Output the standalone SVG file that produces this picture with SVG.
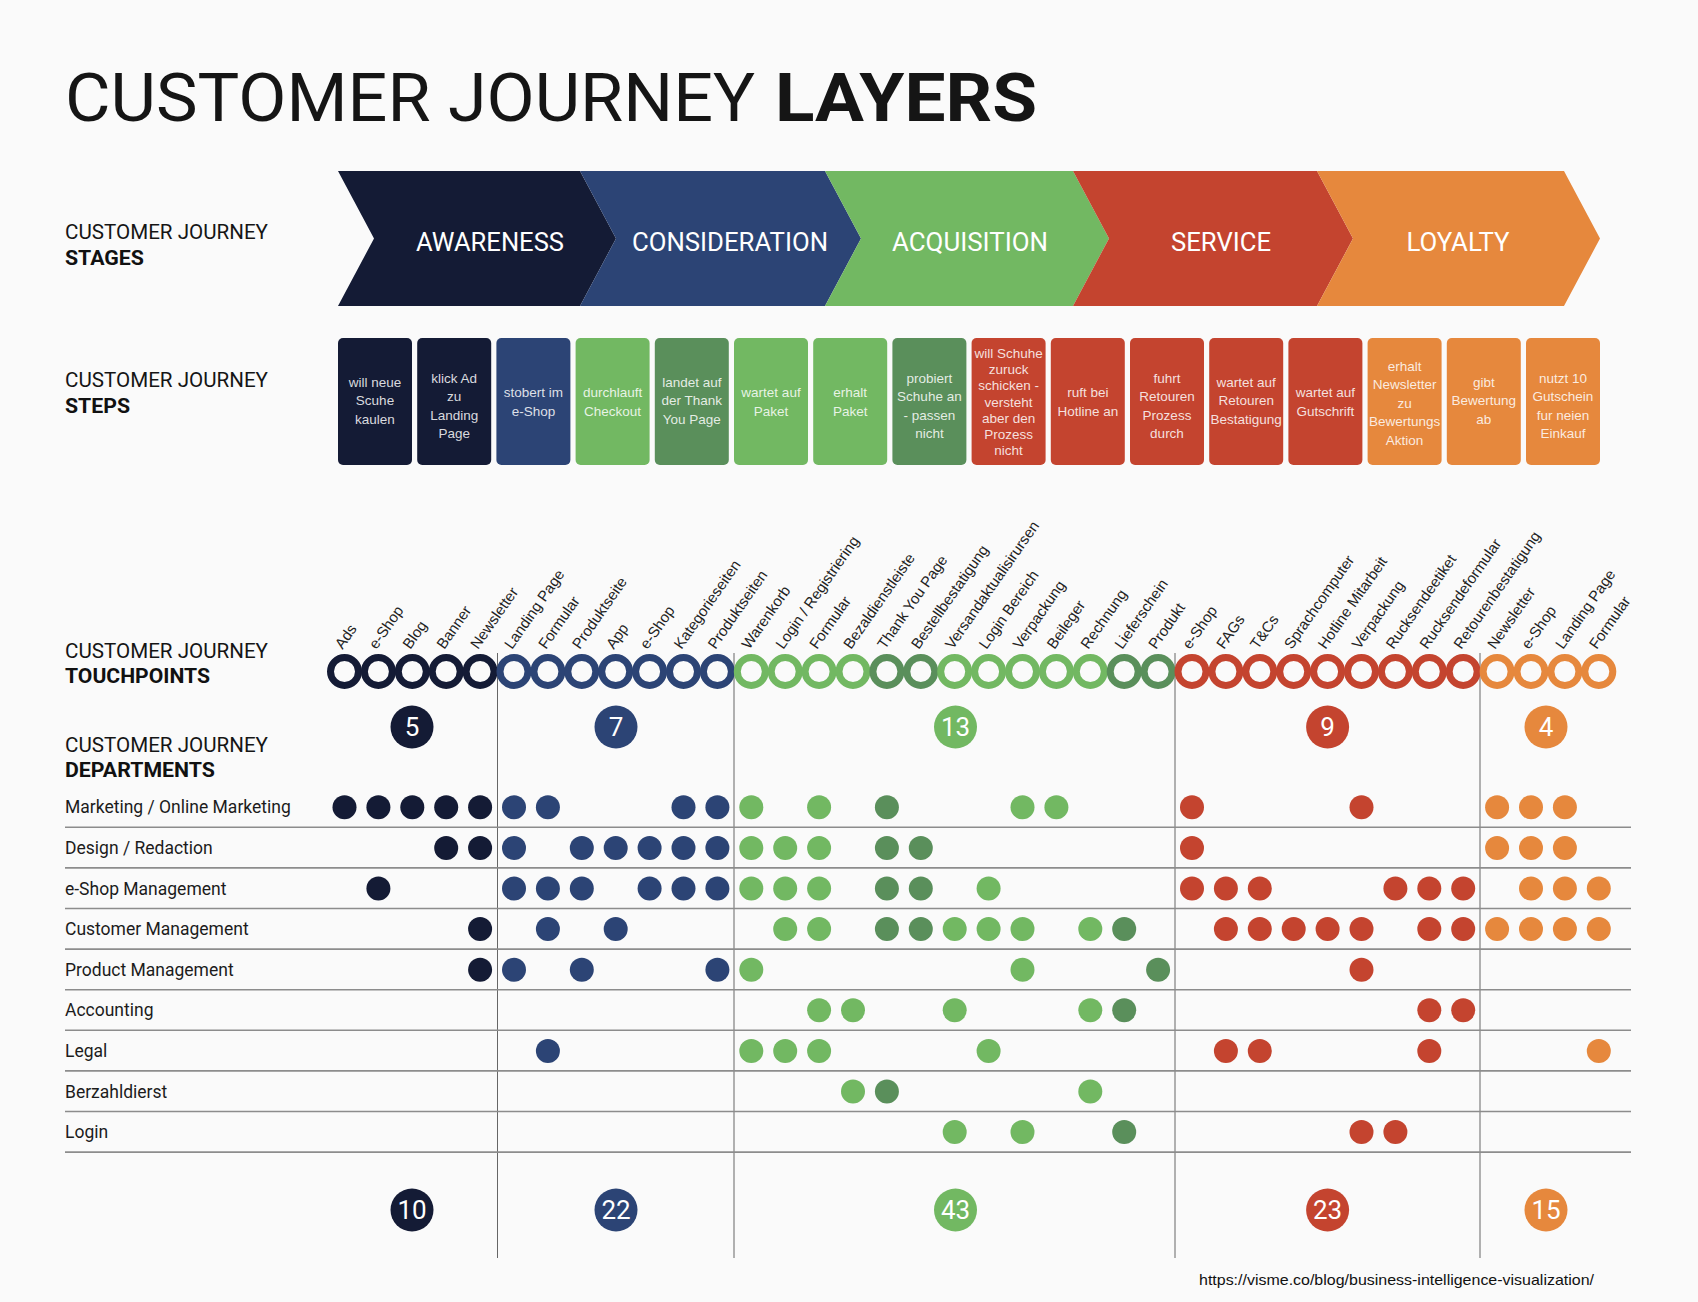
<svg xmlns="http://www.w3.org/2000/svg" width="1698" height="1302" viewBox="0 0 1698 1302">
<style>
.bg{fill:#fafafa}
.t{font-family:Roboto,"Liberation Sans",sans-serif;fill:#151515}
.sec{font-family:Roboto,"Liberation Sans",sans-serif;font-size:20px;fill:#151515}
.secb{font-family:Roboto,"Liberation Sans",sans-serif;font-size:20px;font-weight:700;fill:#111}
.stg{font-family:Roboto,"Liberation Sans",sans-serif;font-size:25px;fill:#fff;text-anchor:middle}
.stp{font-family:"Liberation Sans",Arial,sans-serif;font-size:13.5px;fill:#fff;fill-opacity:0.85;text-anchor:middle}
.lbl{font-family:"Liberation Sans",Arial,sans-serif;font-size:15px;fill:#222}
.dep{font-family:Roboto,"Liberation Sans",sans-serif;font-size:17.5px;fill:#1c1c1c}
.num{font-family:Roboto,"Liberation Sans",sans-serif;font-size:26px;fill:#fff;text-anchor:middle}
.ring{fill:#fafafa;stroke-width:7}
.sn{stroke:#141b35}.sb{stroke:#2c4475}.sg{stroke:#72b862}.sd{stroke:#5a8f5b}.sr{stroke:#c4442f}.so{stroke:#e6883d}
.n{fill:#141b35}.b{fill:#2c4475}.g{fill:#72b862}.d{fill:#5a8f5b}.r{fill:#c4442f}.o{fill:#e6883d}
.hl{stroke:#8c8c8c;stroke-width:1.6}
.vl{stroke:#666;stroke-width:1}
</style>
<rect class="bg" x="0" y="0" width="1698" height="1302"/>

<g id="title">
<text class="t" x="65" y="121" font-size="67" textLength="690" lengthAdjust="spacingAndGlyphs">CUSTOMER JOURNEY</text>
<text class="t" x="775" y="121" font-size="67" font-weight="700" textLength="262" lengthAdjust="spacingAndGlyphs">LAYERS</text>
</g>

<g id="section-labels">
<text class="sec" x="65" y="239" textLength="203" lengthAdjust="spacingAndGlyphs">CUSTOMER JOURNEY</text><text class="secb" x="65" y="265" textLength="79" lengthAdjust="spacingAndGlyphs">STAGES</text>
<text class="sec" x="65" y="387" textLength="203" lengthAdjust="spacingAndGlyphs">CUSTOMER JOURNEY</text><text class="secb" x="65" y="413" textLength="65" lengthAdjust="spacingAndGlyphs">STEPS</text>
<text class="sec" x="65" y="658" textLength="203" lengthAdjust="spacingAndGlyphs">CUSTOMER JOURNEY</text><text class="secb" x="65" y="683" textLength="145" lengthAdjust="spacingAndGlyphs">TOUCHPOINTS</text>
<text class="sec" x="65" y="752" textLength="203" lengthAdjust="spacingAndGlyphs">CUSTOMER JOURNEY</text><text class="secb" x="65" y="777" textLength="150" lengthAdjust="spacingAndGlyphs">DEPARTMENTS</text>
</g>

<g id="stages">
<g id="stage-awareness"><path class="n" d="M338,171 L580,171 L616,238.5 L580,306 L338,306 L374,238.5 Z"/><text class="stg" x="490" y="251" textLength="148" lengthAdjust="spacingAndGlyphs">AWARENESS</text></g>
<g id="stage-consideration"><path class="b" d="M580,171 L825,171 L861,238.5 L825,306 L580,306 L616,238.5 Z"/><text class="stg" x="730" y="251" textLength="196" lengthAdjust="spacingAndGlyphs">CONSIDERATION</text></g>
<g id="stage-acquisition"><path class="g" d="M825,171 L1073,171 L1109,238.5 L1073,306 L825,306 L861,238.5 Z"/><text class="stg" x="970" y="251" textLength="156" lengthAdjust="spacingAndGlyphs">ACQUISITION</text></g>
<g id="stage-service"><path class="r" d="M1073,171 L1317,171 L1353,238.5 L1317,306 L1073,306 L1109,238.5 Z"/><text class="stg" x="1221" y="251" textLength="100" lengthAdjust="spacingAndGlyphs">SERVICE</text></g>
<g id="stage-loyalty"><path class="o" d="M1317,171 L1564,171 L1600,238.5 L1564,306 L1317,306 L1353,238.5 Z"/><text class="stg" x="1458" y="251" textLength="103" lengthAdjust="spacingAndGlyphs">LOYALTY</text></g>
</g>

<g id="steps">
<g id="step-1"><rect class="n" x="338" y="338" width="74" height="127" rx="5"/><text class="stp"><tspan x="375" y="387">will neue</tspan><tspan x="375" y="405.4">Scuhe</tspan><tspan x="375" y="423.8">kaulen</tspan></text></g>
<g id="step-2"><rect class="n" x="417.2" y="338" width="74" height="127" rx="5"/><text class="stp"><tspan x="454.2" y="383">klick Ad</tspan><tspan x="454.2" y="401.4">zu</tspan><tspan x="454.2" y="419.8">Landing</tspan><tspan x="454.2" y="438.2">Page</tspan></text></g>
<g id="step-3"><rect class="b" x="496.4" y="338" width="74" height="127" rx="5"/><text class="stp"><tspan x="533.4" y="397.3">stobert im</tspan><tspan x="533.4" y="415.7">e-Shop</tspan></text></g>
<g id="step-4"><rect class="g" x="575.6" y="338" width="74" height="127" rx="5"/><text class="stp"><tspan x="612.6" y="397.3">durchlauft</tspan><tspan x="612.6" y="415.7">Checkout</tspan></text></g>
<g id="step-5"><rect class="d" x="654.8" y="338" width="74" height="127" rx="5"/><text class="stp"><tspan x="691.8" y="387">landet auf</tspan><tspan x="691.8" y="405.4">der Thank</tspan><tspan x="691.8" y="423.8">You Page</tspan></text></g>
<g id="step-6"><rect class="g" x="734" y="338" width="74" height="127" rx="5"/><text class="stp"><tspan x="771" y="397.3">wartet auf</tspan><tspan x="771" y="415.7">Paket</tspan></text></g>
<g id="step-7"><rect class="g" x="813.2" y="338" width="74" height="127" rx="5"/><text class="stp"><tspan x="850.2" y="397.3">erhalt</tspan><tspan x="850.2" y="415.7">Paket</tspan></text></g>
<g id="step-8"><rect class="d" x="892.4" y="338" width="74" height="127" rx="5"/><text class="stp"><tspan x="929.4" y="383">probiert</tspan><tspan x="929.4" y="401.4">Schuhe an</tspan><tspan x="929.4" y="419.8">- passen</tspan><tspan x="929.4" y="438.2">nicht</tspan></text></g>
<g id="step-9"><rect class="r" x="971.6" y="338" width="74" height="127" rx="5"/><text class="stp"><tspan x="1008.6" y="357.6">will Schuhe</tspan><tspan x="1008.6" y="373.9">zuruck</tspan><tspan x="1008.6" y="390.2">schicken -</tspan><tspan x="1008.6" y="406.5">versteht</tspan><tspan x="1008.6" y="422.8">aber den</tspan><tspan x="1008.6" y="439.1">Prozess</tspan><tspan x="1008.6" y="455.4">nicht</tspan></text></g>
<g id="step-10"><rect class="r" x="1050.8" y="338" width="74" height="127" rx="5"/><text class="stp"><tspan x="1087.8" y="397.3">ruft bei</tspan><tspan x="1087.8" y="415.7">Hotline an</tspan></text></g>
<g id="step-11"><rect class="r" x="1130" y="338" width="74" height="127" rx="5"/><text class="stp"><tspan x="1167" y="383">fuhrt</tspan><tspan x="1167" y="401.4">Retouren</tspan><tspan x="1167" y="419.8">Prozess</tspan><tspan x="1167" y="438.2">durch</tspan></text></g>
<g id="step-12"><rect class="r" x="1209.2" y="338" width="74" height="127" rx="5"/><text class="stp"><tspan x="1246.2" y="387">wartet auf</tspan><tspan x="1246.2" y="405.4">Retouren</tspan><tspan x="1246.2" y="423.8">Bestatigung</tspan></text></g>
<g id="step-13"><rect class="r" x="1288.4" y="338" width="74" height="127" rx="5"/><text class="stp"><tspan x="1325.4" y="397.3">wartet auf</tspan><tspan x="1325.4" y="415.7">Gutschrift</tspan></text></g>
<g id="step-14"><rect class="o" x="1367.6" y="338" width="74" height="127" rx="5"/><text class="stp"><tspan x="1404.6" y="371">erhalt</tspan><tspan x="1404.6" y="389.4">Newsletter</tspan><tspan x="1404.6" y="407.8">zu</tspan><tspan x="1404.6" y="426.2">Bewertungs</tspan><tspan x="1404.6" y="444.6">Aktion</tspan></text></g>
<g id="step-15"><rect class="o" x="1446.8" y="338" width="74" height="127" rx="5"/><text class="stp"><tspan x="1483.8" y="387">gibt</tspan><tspan x="1483.8" y="405.4">Bewertung</tspan><tspan x="1483.8" y="423.8">ab</tspan></text></g>
<g id="step-16"><rect class="o" x="1526" y="338" width="74" height="127" rx="5"/><text class="stp"><tspan x="1563" y="383">nutzt 10</tspan><tspan x="1563" y="401.4">Gutschein</tspan><tspan x="1563" y="419.8">fur neien</tspan><tspan x="1563" y="438.2">Einkauf</tspan></text></g>
</g>

<g id="connectors">
<line class="vl" x1="497.5" y1="653" x2="497.5" y2="1258"/>
<line class="vl" x1="734" y1="653" x2="734" y2="1258"/>
<line class="vl" x1="1175" y1="653" x2="1175" y2="1258"/>
<line class="vl" x1="1480" y1="653" x2="1480" y2="1258"/>
<line class="hl" x1="65" y1="827.3" x2="1631" y2="827.3"/>
<line class="hl" x1="65" y1="867.9" x2="1631" y2="867.9"/>
<line class="hl" x1="65" y1="908.5" x2="1631" y2="908.5"/>
<line class="hl" x1="65" y1="949.1" x2="1631" y2="949.1"/>
<line class="hl" x1="65" y1="989.7" x2="1631" y2="989.7"/>
<line class="hl" x1="65" y1="1030.3" x2="1631" y2="1030.3"/>
<line class="hl" x1="65" y1="1070.9" x2="1631" y2="1070.9"/>
<line class="hl" x1="65" y1="1111.5" x2="1631" y2="1111.5"/>
<line class="hl" x1="65" y1="1152.1" x2="1631" y2="1152.1"/>
</g>

<g id="touchpoint-labels">
<text class="lbl" transform="translate(342.5,650) rotate(-55)">Ads</text>
<text class="lbl" transform="translate(376.4,650) rotate(-55)">e-Shop</text>
<text class="lbl" transform="translate(410.3,650) rotate(-55)">Blog</text>
<text class="lbl" transform="translate(444.2,650) rotate(-55)">Banner</text>
<text class="lbl" transform="translate(478.1,650) rotate(-55)">Newsletter</text>
<text class="lbl" transform="translate(512,650) rotate(-55)">Landing Page</text>
<text class="lbl" transform="translate(545.9,650) rotate(-55)">Formular</text>
<text class="lbl" transform="translate(579.8,650) rotate(-55)">Produktseite</text>
<text class="lbl" transform="translate(613.7,650) rotate(-55)">App</text>
<text class="lbl" transform="translate(647.6,650) rotate(-55)">e-Shop</text>
<text class="lbl" transform="translate(681.5,650) rotate(-55)">Kategorieseiten</text>
<text class="lbl" transform="translate(715.4,650) rotate(-55)">Produktseiten</text>
<text class="lbl" transform="translate(749.3,650) rotate(-55)">Warenkorb</text>
<text class="lbl" transform="translate(783.2,650) rotate(-55)">Login / Registriering</text>
<text class="lbl" transform="translate(817.1,650) rotate(-55)">Formular</text>
<text class="lbl" transform="translate(851,650) rotate(-55)">Bezaldienstleiste</text>
<text class="lbl" transform="translate(884.9,650) rotate(-55)">Thank You Page</text>
<text class="lbl" transform="translate(918.8,650) rotate(-55)">Bestellbestatigung</text>
<text class="lbl" transform="translate(952.7,650) rotate(-55)">Versandaktualisirursen</text>
<text class="lbl" transform="translate(986.6,650) rotate(-55)">Login Bereich</text>
<text class="lbl" transform="translate(1020.5,650) rotate(-55)">Verpackung</text>
<text class="lbl" transform="translate(1054.4,650) rotate(-55)">Beileger</text>
<text class="lbl" transform="translate(1088.3,650) rotate(-55)">Rechnung</text>
<text class="lbl" transform="translate(1122.2,650) rotate(-55)">Lieferschein</text>
<text class="lbl" transform="translate(1156.1,650) rotate(-55)">Produkt</text>
<text class="lbl" transform="translate(1190,650) rotate(-55)">e-Shop</text>
<text class="lbl" transform="translate(1223.9,650) rotate(-55)">FAGs</text>
<text class="lbl" transform="translate(1257.8,650) rotate(-55)">T&amp;Cs</text>
<text class="lbl" transform="translate(1291.7,650) rotate(-55)">Sprachcomputer</text>
<text class="lbl" transform="translate(1325.6,650) rotate(-55)">Hotline Mitarbeit</text>
<text class="lbl" transform="translate(1359.5,650) rotate(-55)">Verpackung</text>
<text class="lbl" transform="translate(1393.4,650) rotate(-55)">Rucksendeetiket</text>
<text class="lbl" transform="translate(1427.3,650) rotate(-55)">Rucksendeformular</text>
<text class="lbl" transform="translate(1461.2,650) rotate(-55)">Retourenbestatigung</text>
<text class="lbl" transform="translate(1495.1,650) rotate(-55)">Newsletter</text>
<text class="lbl" transform="translate(1529,650) rotate(-55)">e-Shop</text>
<text class="lbl" transform="translate(1562.9,650) rotate(-55)">Landing Page</text>
<text class="lbl" transform="translate(1596.8,650) rotate(-55)">Formular</text>
</g>

<g id="touchpoints">
<circle class="ring sn" cx="344.5" cy="671.5" r="14"/>
<circle class="ring sn" cx="378.4" cy="671.5" r="14"/>
<circle class="ring sn" cx="412.3" cy="671.5" r="14"/>
<circle class="ring sn" cx="446.2" cy="671.5" r="14"/>
<circle class="ring sn" cx="480.1" cy="671.5" r="14"/>
<circle class="ring sb" cx="514" cy="671.5" r="14"/>
<circle class="ring sb" cx="547.9" cy="671.5" r="14"/>
<circle class="ring sb" cx="581.8" cy="671.5" r="14"/>
<circle class="ring sb" cx="615.7" cy="671.5" r="14"/>
<circle class="ring sb" cx="649.6" cy="671.5" r="14"/>
<circle class="ring sb" cx="683.5" cy="671.5" r="14"/>
<circle class="ring sb" cx="717.4" cy="671.5" r="14"/>
<circle class="ring sg" cx="751.3" cy="671.5" r="14"/>
<circle class="ring sg" cx="785.2" cy="671.5" r="14"/>
<circle class="ring sg" cx="819.1" cy="671.5" r="14"/>
<circle class="ring sg" cx="853" cy="671.5" r="14"/>
<circle class="ring sd" cx="886.9" cy="671.5" r="14"/>
<circle class="ring sd" cx="920.8" cy="671.5" r="14"/>
<circle class="ring sg" cx="954.7" cy="671.5" r="14"/>
<circle class="ring sg" cx="988.6" cy="671.5" r="14"/>
<circle class="ring sg" cx="1022.5" cy="671.5" r="14"/>
<circle class="ring sg" cx="1056.4" cy="671.5" r="14"/>
<circle class="ring sg" cx="1090.3" cy="671.5" r="14"/>
<circle class="ring sd" cx="1124.2" cy="671.5" r="14"/>
<circle class="ring sd" cx="1158.1" cy="671.5" r="14"/>
<circle class="ring sr" cx="1192" cy="671.5" r="14"/>
<circle class="ring sr" cx="1225.9" cy="671.5" r="14"/>
<circle class="ring sr" cx="1259.8" cy="671.5" r="14"/>
<circle class="ring sr" cx="1293.7" cy="671.5" r="14"/>
<circle class="ring sr" cx="1327.6" cy="671.5" r="14"/>
<circle class="ring sr" cx="1361.5" cy="671.5" r="14"/>
<circle class="ring sr" cx="1395.4" cy="671.5" r="14"/>
<circle class="ring sr" cx="1429.3" cy="671.5" r="14"/>
<circle class="ring sr" cx="1463.2" cy="671.5" r="14"/>
<circle class="ring so" cx="1497.1" cy="671.5" r="14"/>
<circle class="ring so" cx="1531" cy="671.5" r="14"/>
<circle class="ring so" cx="1564.9" cy="671.5" r="14"/>
<circle class="ring so" cx="1598.8" cy="671.5" r="14"/>
</g>

<g id="touchpoint-counts">
<g id="count-awareness"><circle class="n" cx="412" cy="727" r="21.5"/><text class="num" x="412" y="736">5</text></g>
<g id="count-consideration"><circle class="b" cx="616" cy="727" r="21.5"/><text class="num" x="616" y="736">7</text></g>
<g id="count-acquisition"><circle class="g" cx="955.5" cy="727" r="21.5"/><text class="num" x="955.5" y="736">13</text></g>
<g id="count-service"><circle class="r" cx="1327.6" cy="727" r="21.5"/><text class="num" x="1327.6" y="736">9</text></g>
<g id="count-loyalty"><circle class="o" cx="1546" cy="727" r="21.5"/><text class="num" x="1546" y="736">4</text></g>
</g>

<g id="departments">
<g id="dept-marketing">
<text class="dep" x="65" y="813">Marketing / Online Marketing</text>
<circle class="n" cx="344.5" cy="807.3" r="12"/><circle class="n" cx="378.4" cy="807.3" r="12"/><circle class="n" cx="412.3" cy="807.3" r="12"/><circle class="n" cx="446.2" cy="807.3" r="12"/><circle class="n" cx="480.1" cy="807.3" r="12"/>
<circle class="b" cx="514" cy="807.3" r="12"/><circle class="b" cx="547.9" cy="807.3" r="12"/><circle class="b" cx="683.5" cy="807.3" r="12"/><circle class="b" cx="717.4" cy="807.3" r="12"/>
<circle class="g" cx="751.3" cy="807.3" r="12"/><circle class="g" cx="819.1" cy="807.3" r="12"/><circle class="d" cx="886.9" cy="807.3" r="12"/><circle class="g" cx="1022.5" cy="807.3" r="12"/><circle class="g" cx="1056.4" cy="807.3" r="12"/>
<circle class="r" cx="1192" cy="807.3" r="12"/><circle class="r" cx="1361.5" cy="807.3" r="12"/>
<circle class="o" cx="1497.1" cy="807.3" r="12"/><circle class="o" cx="1531" cy="807.3" r="12"/><circle class="o" cx="1564.9" cy="807.3" r="12"/>
</g>
<g id="dept-design">
<text class="dep" x="65" y="853.9">Design / Redaction</text>
<circle class="n" cx="446.2" cy="847.9" r="12"/><circle class="n" cx="480.1" cy="847.9" r="12"/>
<circle class="b" cx="514" cy="847.9" r="12"/><circle class="b" cx="581.8" cy="847.9" r="12"/><circle class="b" cx="615.7" cy="847.9" r="12"/><circle class="b" cx="649.6" cy="847.9" r="12"/><circle class="b" cx="683.5" cy="847.9" r="12"/><circle class="b" cx="717.4" cy="847.9" r="12"/>
<circle class="g" cx="751.3" cy="847.9" r="12"/><circle class="g" cx="785.2" cy="847.9" r="12"/><circle class="g" cx="819.1" cy="847.9" r="12"/><circle class="d" cx="886.9" cy="847.9" r="12"/><circle class="d" cx="920.8" cy="847.9" r="12"/>
<circle class="r" cx="1192" cy="847.9" r="12"/>
<circle class="o" cx="1497.1" cy="847.9" r="12"/><circle class="o" cx="1531" cy="847.9" r="12"/><circle class="o" cx="1564.9" cy="847.9" r="12"/>
</g>
<g id="dept-eshop">
<text class="dep" x="65" y="894.5">e-Shop Management</text>
<circle class="n" cx="378.4" cy="888.5" r="12"/>
<circle class="b" cx="514" cy="888.5" r="12"/><circle class="b" cx="547.9" cy="888.5" r="12"/><circle class="b" cx="581.8" cy="888.5" r="12"/><circle class="b" cx="649.6" cy="888.5" r="12"/><circle class="b" cx="683.5" cy="888.5" r="12"/><circle class="b" cx="717.4" cy="888.5" r="12"/>
<circle class="g" cx="751.3" cy="888.5" r="12"/><circle class="g" cx="785.2" cy="888.5" r="12"/><circle class="g" cx="819.1" cy="888.5" r="12"/><circle class="d" cx="886.9" cy="888.5" r="12"/><circle class="d" cx="920.8" cy="888.5" r="12"/><circle class="g" cx="988.6" cy="888.5" r="12"/>
<circle class="r" cx="1192" cy="888.5" r="12"/><circle class="r" cx="1225.9" cy="888.5" r="12"/><circle class="r" cx="1259.8" cy="888.5" r="12"/><circle class="r" cx="1395.4" cy="888.5" r="12"/><circle class="r" cx="1429.3" cy="888.5" r="12"/><circle class="r" cx="1463.2" cy="888.5" r="12"/>
<circle class="o" cx="1531" cy="888.5" r="12"/><circle class="o" cx="1564.9" cy="888.5" r="12"/><circle class="o" cx="1598.8" cy="888.5" r="12"/>
</g>
<g id="dept-customer">
<text class="dep" x="65" y="935.1">Customer Management</text>
<circle class="n" cx="480.1" cy="929.1" r="12"/>
<circle class="b" cx="547.9" cy="929.1" r="12"/><circle class="b" cx="615.7" cy="929.1" r="12"/>
<circle class="g" cx="785.2" cy="929.1" r="12"/><circle class="g" cx="819.1" cy="929.1" r="12"/><circle class="d" cx="886.9" cy="929.1" r="12"/><circle class="d" cx="920.8" cy="929.1" r="12"/><circle class="g" cx="954.7" cy="929.1" r="12"/><circle class="g" cx="988.6" cy="929.1" r="12"/><circle class="g" cx="1022.5" cy="929.1" r="12"/><circle class="g" cx="1090.3" cy="929.1" r="12"/><circle class="d" cx="1124.2" cy="929.1" r="12"/>
<circle class="r" cx="1225.9" cy="929.1" r="12"/><circle class="r" cx="1259.8" cy="929.1" r="12"/><circle class="r" cx="1293.7" cy="929.1" r="12"/><circle class="r" cx="1327.6" cy="929.1" r="12"/><circle class="r" cx="1361.5" cy="929.1" r="12"/><circle class="r" cx="1429.3" cy="929.1" r="12"/><circle class="r" cx="1463.2" cy="929.1" r="12"/>
<circle class="o" cx="1497.1" cy="929.1" r="12"/><circle class="o" cx="1531" cy="929.1" r="12"/><circle class="o" cx="1564.9" cy="929.1" r="12"/><circle class="o" cx="1598.8" cy="929.1" r="12"/>
</g>
<g id="dept-product">
<text class="dep" x="65" y="975.7">Product Management</text>
<circle class="n" cx="480.1" cy="969.7" r="12"/>
<circle class="b" cx="514" cy="969.7" r="12"/><circle class="b" cx="581.8" cy="969.7" r="12"/><circle class="b" cx="717.4" cy="969.7" r="12"/>
<circle class="g" cx="751.3" cy="969.7" r="12"/><circle class="g" cx="1022.5" cy="969.7" r="12"/><circle class="d" cx="1158.1" cy="969.7" r="12"/>
<circle class="r" cx="1361.5" cy="969.7" r="12"/>
</g>
<g id="dept-accounting">
<text class="dep" x="65" y="1016.3">Accounting</text>
<circle class="g" cx="819.1" cy="1010.3" r="12"/><circle class="g" cx="853" cy="1010.3" r="12"/><circle class="g" cx="954.7" cy="1010.3" r="12"/><circle class="g" cx="1090.3" cy="1010.3" r="12"/><circle class="d" cx="1124.2" cy="1010.3" r="12"/>
<circle class="r" cx="1429.3" cy="1010.3" r="12"/><circle class="r" cx="1463.2" cy="1010.3" r="12"/>
</g>
<g id="dept-legal">
<text class="dep" x="65" y="1056.9">Legal</text>
<circle class="b" cx="547.9" cy="1050.9" r="12"/>
<circle class="g" cx="751.3" cy="1050.9" r="12"/><circle class="g" cx="785.2" cy="1050.9" r="12"/><circle class="g" cx="819.1" cy="1050.9" r="12"/><circle class="g" cx="988.6" cy="1050.9" r="12"/>
<circle class="r" cx="1225.9" cy="1050.9" r="12"/><circle class="r" cx="1259.8" cy="1050.9" r="12"/><circle class="r" cx="1429.3" cy="1050.9" r="12"/>
<circle class="o" cx="1598.8" cy="1050.9" r="12"/>
</g>
<g id="dept-berzahldierst">
<text class="dep" x="65" y="1097.5">Berzahldierst</text>
<circle class="g" cx="853" cy="1091.5" r="12"/><circle class="d" cx="886.9" cy="1091.5" r="12"/><circle class="g" cx="1090.3" cy="1091.5" r="12"/>
</g>
<g id="dept-login">
<text class="dep" x="65" y="1138.1">Login</text>
<circle class="g" cx="954.7" cy="1132.1" r="12"/><circle class="g" cx="1022.5" cy="1132.1" r="12"/><circle class="d" cx="1124.2" cy="1132.1" r="12"/>
<circle class="r" cx="1361.5" cy="1132.1" r="12"/><circle class="r" cx="1395.4" cy="1132.1" r="12"/>
</g>
</g>

<g id="department-totals">
<g id="total-awareness"><circle class="n" cx="412" cy="1210" r="21.5"/><text class="num" x="412" y="1219">10</text></g>
<g id="total-consideration"><circle class="b" cx="616" cy="1210" r="21.5"/><text class="num" x="616" y="1219">22</text></g>
<g id="total-acquisition"><circle class="g" cx="955.5" cy="1210" r="21.5"/><text class="num" x="955.5" y="1219">43</text></g>
<g id="total-service"><circle class="r" cx="1327.6" cy="1210" r="21.5"/><text class="num" x="1327.6" y="1219">23</text></g>
<g id="total-loyalty"><circle class="o" cx="1546" cy="1210" r="21.5"/><text class="num" x="1546" y="1219">15</text></g>
</g>

<text x="1199" y="1285" font-family="'Liberation Sans',Arial,sans-serif" font-size="15" fill="#111" textLength="395" lengthAdjust="spacingAndGlyphs">https://visme.co/blog/business-intelligence-visualization/</text>
</svg>
